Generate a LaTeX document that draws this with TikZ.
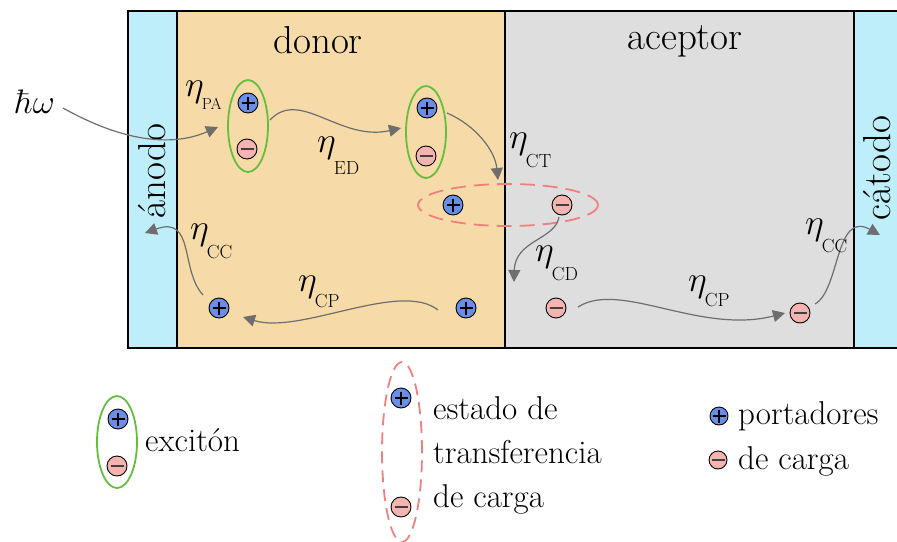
\RequirePackage{fix-cm}
\documentclass[tikz,border=0pt]{standalone}
\usetikzlibrary{arrows.meta,shapes.geometric}
\definecolor{anodec}{RGB}{190,238,250}
\definecolor{donorc}{RGB}{246,219,168}
\definecolor{accc}{RGB}{222,222,222}
\definecolor{posc}{RGB}{106,142,230}
\definecolor{negc}{RGB}{245,180,176}
\definecolor{exgreen}{RGB}{100,192,60}
\definecolor{ctred}{RGB}{240,128,128}
\definecolor{arrc}{RGB}{110,110,110}
\newcommand\efic[3]{{\fontsize{36}{40}\selectfont$\eta$}\kern-2pt\raisebox{-#2pt}{\fontsize{#3}{20}\selectfont #1}}
\begin{document}
\begin{tikzpicture}[x=1pt,y=-1pt,
  carrier/.style={circle, draw=black, line width=0.9pt, minimum size=20pt, inner sep=0pt},
  poscar/.style={carrier, fill=posc, path picture={
     \draw[line width=1.4pt] ([xshift=-6.5pt]path picture bounding box.center) -- ([xshift=6.5pt]path picture bounding box.center)
       ([yshift=-6.5pt]path picture bounding box.center) -- ([yshift=6.5pt]path picture bounding box.center);}},
  negcar/.style={carrier, fill=negc, path picture={
     \draw[line width=1.4pt, black!75] ([xshift=-6.5pt]path picture bounding box.center) -- ([xshift=6.5pt]path picture bounding box.center);}},
  exciton/.style={ellipse, draw=exgreen, line width=1.8pt, minimum width=40pt, minimum height=92pt, inner sep=0pt},
  ctstate/.style={ellipse, draw=ctred, line width=1.8pt, dash pattern=on 15pt off 8pt, inner sep=0pt},
  arr/.style={draw=arrc, line width=1.2pt, -{Triangle[length=12pt,width=12pt]}, arrc},
  title/.style={font=\fontsize{39}{46}\selectfont, inner sep=0pt},
  legtext/.style={font=\fontsize{33}{40}\selectfont, inner sep=0pt, align=left},
  eff/.style={inner sep=0pt, anchor=base west}
]
\useasboundingbox (0,0) rectangle (897,541);
% regions
\fill[anodec] (128,11) rectangle (177,348);
\fill[donorc] (177,11) rectangle (505,348);
\fill[accc] (505,11) rectangle (854,348);
\fill[anodec] (854,11) rectangle (910,348);
\draw[line width=1.4pt] (177,11) -- (177,348) (505,11) -- (505,348) (854,11) -- (854,348);
\draw[line width=2pt] (910,11) -- (128,11) -- (128,348) -- (910,348);

% titles
\node[title, anchor=base] (tdonor) at (318,53) {donor};
\node[title, anchor=base] (tacc) at (685,49) {aceptor};
\node[title, rotate=90] (tanode) at (152,171) {ánodo};
\node[title, rotate=90] (tcath) at (877,168) {cátodo};
\node[font=\fontsize{34}{40}\selectfont, inner sep=0pt] (hw) at (35,102) {$\hbar\omega$};

% excitons
\node[exciton] (exc1) at (248,126) {};
\node[poscar] (p1) at (248,103) {};
\node[negcar] (n1) at (247,149) {};
\node[exciton] (exc2) at (426,132) {};
\node[poscar] (p2) at (427,108) {};
\node[negcar] (n2) at (426,156) {};
% CT state
\node[ctstate, minimum width=180pt, minimum height=42pt] (ct) at (508,205) {};
\node[poscar] (p3) at (453,205) {};
\node[negcar] (n3) at (562,205) {};
% free carriers
\node[poscar] (p4) at (219,308) {};
\node[poscar] (p5) at (466,308) {};
\node[negcar] (n4) at (556,308) {};
\node[negcar] (n5) at (800,313) {};
\coordinate (anodeIn) at (145,233);
\coordinate (cathIn) at (880,235);

% arrows
\draw[arr] ([shift={(28,6)}]hw.center) .. controls (120,140) and (170,148) .. ([shift={(-30,1)}]exc1.center);
\draw[arr] ([shift={(22,-6)}]exc1.center) .. controls (300,88) and (340,142) .. ([shift={(-25,-4)}]exc2.center);
\draw[arr] ([shift={(21,-19)}]exc2.center) .. controls (475,125) and (495,150) .. ([shift={(-10,-25)}]ct.center);
\draw[arr] ([shift={(-3,12)}]n3.center) .. controls (555,240) and (515,240) .. ([shift={(-42,-26)}]n4.center);
\draw[arr] ([shift={(-28,2)}]p5.center) .. controls (400,280) and (300,335) .. ([shift={(24,9)}]p4.center);
\draw[arr] ([shift={(-16,-13)}]p4.center) .. controls (180,270) and (195,215) .. (anodeIn);
\draw[arr] ([shift={(22,-1)}]n4.center) .. controls (620,280) and (700,335) .. ([shift={(-15,0)}]n5.center);
\draw[arr] ([shift={(15,-9)}]n5.center) .. controls (840,290) and (835,210) .. (cathIn);

% efficiency labels
\node[eff] (ePA) at (185,96) {\efic{PA}{13}{16}};
\node[eff] (eED) at (317,152) {\efic{ED}{22}{19}};
\node[eff] (eCT) at (509,148) {\efic{CT}{19}{19}};
\node[eff] (eCD) at (535,261) {\efic{CD}{19}{19}};
\node[eff] (eCCl) at (190,239) {\efic{CC}{19}{19}};
\node[eff] (eCPl) at (298,291) {\efic{CP}{16}{19}};
\node[eff] (eCPr) at (688,291) {\efic{CP}{15}{19}};
\node[eff] (eCCr) at (805,234) {\efic{CC}{18}{19}};

% legend
\node[exciton] (legexc) at (117,442) {};
\node[poscar] (p6) at (118,419) {};
\node[negcar] (n6) at (117,466) {};
\node[legtext, anchor=base west] (lexc) at (145,451) {excitón};

\node[ctstate, minimum width=40pt, minimum height=180pt, dash pattern=on 12pt off 7pt] (legct) at (402,452) {};
\node[poscar] (p7) at (401,398) {};
\node[negcar] (n7) at (401,507) {};
\node[legtext, anchor=north west] (lct) at (433,396) {estado de\\[4pt]transferencia\\[4pt]de carga};

\node[poscar, minimum size=18pt] (p8) at (719,416) {};
\node[negcar, minimum size=18pt] (n8) at (718,460) {};
\node[legtext, anchor=north west] (lcar) at (738,401) {portadores\\[5pt]de carga};
\end{tikzpicture}
\end{document}
